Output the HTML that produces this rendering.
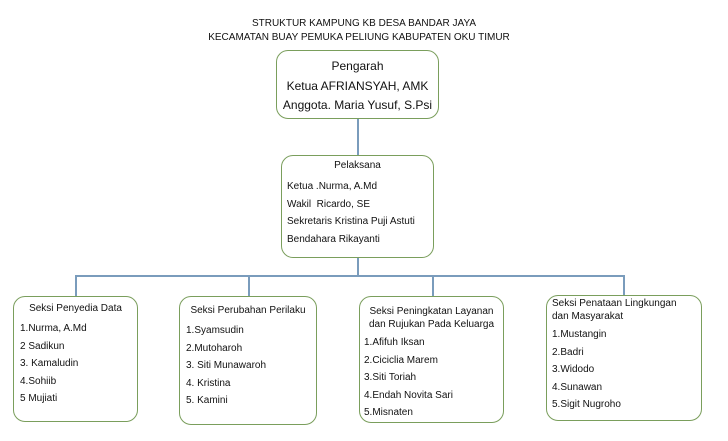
<!DOCTYPE html>
<html><head><style>
body{margin:0;width:728px;height:441px;background:#fff;position:relative;font-family:"Liberation Sans",sans-serif;color:#111;overflow:hidden}
.t{position:absolute;white-space:nowrap;font-size:10px;line-height:12px}
.b{position:absolute;border:1.3px solid #7a9e5c;border-radius:12px;box-sizing:border-box;background:#fff}
.l{position:absolute;background:#7a9cbc}
</style></head><body>
<div class="t" style="left:0;width:728px;text-align:center;top:18px">STRUKTUR KAMPUNG KB DESA BANDAR JAYA</div>
<div class="t" style="left:0;width:718px;text-align:center;top:32px">KECAMATAN BUAY PEMUKA PELIUNG KABUPATEN OKU TIMUR</div>

<div class="l" style="left:357px;top:119px;width:1.5px;height:36px"></div>
<div class="l" style="left:357px;top:258px;width:1.5px;height:18px"></div>
<div class="l" style="left:75px;top:275px;width:549px;height:1.5px"></div>
<div class="l" style="left:75px;top:275px;width:1.5px;height:21px"></div>
<div class="l" style="left:248px;top:275px;width:1.5px;height:21px"></div>
<div class="l" style="left:432px;top:275px;width:1.5px;height:21px"></div>
<div class="l" style="left:623px;top:275px;width:1.5px;height:21px"></div>

<div class="b" style="left:276px;top:50px;width:163px;height:69px"></div>
<div class="t" style="left:276px;width:163px;text-align:center;top:57px;font-size:12px;line-height:19.5px">Pengarah<br>Ketua AFRIANSYAH, AMK<br>Anggota. Maria Yusuf, S.Psi</div>

<div class="b" style="left:281px;top:155px;width:153px;height:103px"></div>
<div class="t" style="left:281px;width:153px;text-align:center;top:160px">Pelaksana</div>
<div class="t" style="left:287px;top:178px;line-height:17.5px">Ketua .Nurma, A.Md<br>Wakil&nbsp; Ricardo, SE<br>Sekretaris Kristina Puji Astuti<br>Bendahara Rikayanti</div>

<div class="b" style="left:13px;top:296px;width:125px;height:126px"></div>
<div class="t" style="left:13px;width:125px;text-align:center;top:303px">Seksi Penyedia Data</div>
<div class="t" style="left:20px;top:320px;line-height:17.5px">1.Nurma, A.Md<br>2 Sadikun<br>3. Kamaludin<br>4.Sohiib<br>5 Mujiati</div>

<div class="b" style="left:179px;top:296px;width:138px;height:129px"></div>
<div class="t" style="left:179px;width:138px;text-align:center;top:305px">Seksi Perubahan Perilaku</div>
<div class="t" style="left:186px;top:322px;line-height:17.5px">1.Syamsudin<br>2.Mutoharoh<br>3. Siti Munawaroh<br>4. Kristina<br>5. Kamini</div>

<div class="b" style="left:359px;top:296px;width:145px;height:127px"></div>
<div class="t" style="left:359px;width:145px;text-align:center;top:305px;line-height:13px">Seksi Peningkatan Layanan<br>dan Rujukan Pada Keluarga</div>
<div class="t" style="left:364px;top:334px;line-height:17.5px">1.Afifuh Iksan<br>2.Ciciclia Marem<br>3.Siti Toriah<br>4.Endah Novita Sari<br>5.Misnaten</div>

<div class="b" style="left:546px;top:295px;width:156px;height:126px"></div>
<div class="t" style="left:552px;top:297px;line-height:13px">Seksi Penataan Lingkungan<br>dan Masyarakat</div>
<div class="t" style="left:552px;top:326px;line-height:17.5px">1.Mustangin<br>2.Badri<br>3.Widodo<br>4.Sunawan<br>5.Sigit Nugroho</div>
</body></html>
